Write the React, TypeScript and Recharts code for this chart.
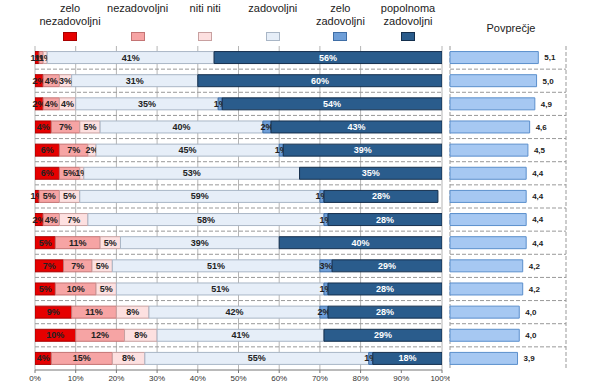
import { BarChart, Bar, XAxis, YAxis, CartesianGrid, LabelList } from 'recharts'

const rows = ['1', '2', '3', '4', '5', '6', '7', '8', '9', '10', '11', '12', '13', '14']

// percentages per answer, top row first
const zeloNezadovoljni = [1, 2, 2, 4, 6, 6, 1, 2, 5, 7, 5, 9, 10, 4]
const nezadovoljni = [1, 4, 4, 7, 7, 5, 5, 4, 11, 7, 10, 11, 12, 15]
const nitiNiti = [1, 3, 4, 5, 2, 1, 5, 7, 5, 5, 5, 8, 8, 8]
const zadovoljni = [41, 31, 35, 40, 45, 53, 59, 58, 39, 51, 51, 42, 41, 55]
const zeloZadovoljni = [0, 0, 1, 2, 1, 0, 1, 1, 0, 3, 1, 2, 0, 1]
const popolnomaZadovoljni = [56, 60, 54, 43, 39, 35, 28, 28, 40, 29, 28, 28, 29, 18]

const povprecje = [5.1, 5.0, 4.9, 4.6, 4.5, 4.4, 4.4, 4.4, 4.4, 4.2, 4.2, 4.0, 4.0, 3.9]

const pctTicks = [0, 10, 20, 30, 40, 50, 60, 70, 80, 90, 100]
const avgTicks = [1, 2, 3, 4, 5, 6]

const series = [
  { key: 'zn', label: ['zelo', 'nezadovoljni'], values: zeloNezadovoljni, fill: '#e60000', stroke: '#a80000', text: '#222' },
  { key: 'n', label: ['nezadovoljni'], values: nezadovoljni, fill: '#f6a4a4', stroke: '#c47474', text: '#222' },
  { key: 'nn', label: ['niti niti'], values: nitiNiti, fill: '#fde0e0', stroke: '#c8a0a0', text: '#222' },
  { key: 'z', label: ['zadovoljni'], values: zadovoljni, fill: '#e6eef8', stroke: '#a9b6c6', text: '#222' },
  { key: 'zz', label: ['zelo', 'zadovoljni'], values: zeloZadovoljni, fill: '#6f9fd8', stroke: '#3f6ea6', text: '#222' },
  { key: 'pz', label: ['popolnoma', 'zadovoljni'], values: popolnomaZadovoljni, fill: '#2a5c8c', stroke: '#142f4d', text: '#fff' },
]

const pctData = rows.map((name, i) => {
  const row: Record<string, any> = { name }
  series.forEach(s => (row[s.key] = s.values[i]))
  return row
})

const avgData = rows.map((name, i) => ({ name, avg: povprecje[i] }))

const font = '"Liberation Sans", Arial, sans-serif'

// dashed lines between the rows instead of through them
const betweenRows = ({ offset }: any) =>
  rows.slice(1).map((_, i) => offset.top + ((i + 1) * offset.height) / rows.length)

// label cut off at the right end of its own segment, like the next segment covering it
const segmentLabel = (key: string, color: string) => (props: any) => {
  const vb = props.viewBox || props
  const x = Number(props.x ?? vb.x)
  const y = Number(props.y ?? vb.y)
  const width = Number(props.width ?? vb.width)
  const height = Number(props.height ?? vb.height)
  const value = props.value
  if (!value) return null
  const id = `clip-${key}-${props.index}`
  return (
    <g>
      <defs>
        <clipPath id={id}>
          <rect x={0} y={y} width={x + width} height={height} />
        </clipPath>
      </defs>
      <text
        x={x + width / 2}
        y={y + height / 2}
        textAnchor="middle"
        dominantBaseline="central"
        clipPath={`url(#${id})`}
        fill={color}
        fontSize={9}
        fontWeight="bold"
        fontFamily={font}
      >
        {`${value}%`}
      </text>
    </g>
  )
}

export default function App() {
  return (
    <div style={{ position: 'absolute', left: 0, top: 0, width: 600, height: 390, background: '#fff', fontFamily: font }}>
      {series.map((s, i) => (
        <div
          key={s.key}
          style={{ position: 'absolute', left: 70 + i * 67.6 - 40, top: 2, width: 80, textAlign: 'center', fontSize: 11, lineHeight: '13px', color: '#222' }}
        >
          <div style={{ height: 27 }}>
            {s.label.map(l => (
              <div key={l}>{l}</div>
            ))}
          </div>
          <div style={{ width: 12, height: 7, margin: '3px auto 0', background: s.fill, border: `1px solid ${s.stroke}` }} />
        </div>
      ))}
      <div style={{ position: 'absolute', left: 471, top: 22, width: 80, textAlign: 'center', fontSize: 11, color: '#222' }}>Povprečje</div>

      <div style={{ position: 'absolute', left: 0, top: 0 }}>
        <BarChart width={450} height={390} data={pctData} layout="vertical" margin={{ top: 46, right: 8, left: 35, bottom: 0 }} barCategoryGap="24%">
          <CartesianGrid vertical horizontal={false} stroke="#b5b5b5" />
          <CartesianGrid vertical={false} stroke="#999" strokeDasharray="4 2" horizontalCoordinatesGenerator={betweenRows} />
          <XAxis
            type="number"
            domain={[0, 100]}
            ticks={pctTicks}
            allowDataOverflow
            tickFormatter={(v: number) => `${v}%`}
            height={20}
            tickSize={3}
            stroke="#777"
            tick={{ fontSize: 8, fill: '#333', fontFamily: font }}
          />
          <XAxis xAxisId="top" orientation="top" type="number" domain={[0, 100]} ticks={pctTicks} height={0} tick={false} stroke="#999" />
          <YAxis type="category" dataKey="name" width={0} tick={false} tickLine={false} stroke="#999" />
          <YAxis yAxisId="r" orientation="right" type="category" dataKey="name" width={0} tick={false} tickLine={false} stroke="#777" strokeWidth={2} />
          {series.map(s => (
            <Bar key={s.key} dataKey={s.key} stackId="a" fill={s.fill} stroke={s.stroke} strokeWidth={1} isAnimationActive={false}>
              <LabelList dataKey={s.key} content={segmentLabel(s.key, s.text)} />
            </Bar>
          ))}
        </BarChart>
      </div>

      <div style={{ position: 'absolute', left: 441, top: 0 }}>
        <BarChart width={159} height={390} data={avgData} layout="vertical" margin={{ top: 46, right: 34, left: 9, bottom: 0 }} barCategoryGap="24%">
          <CartesianGrid xAxisId="v" stroke="#999" strokeDasharray="4 2" horizontalCoordinatesGenerator={betweenRows} />
          <XAxis
            xAxisId="v"
            type="number"
            domain={[1, 6]}
            ticks={avgTicks}
            height={20}
            tickSize={3}
            stroke="#777"
            tick={{ fontSize: 8, fill: '#333', fontFamily: font }}
          />
          <XAxis xAxisId="b" type="number" domain={[0, 6.7]} hide />
          <XAxis xAxisId="top" orientation="top" type="number" domain={[1, 6]} height={0} tick={false} tickLine={false} stroke="#888" />
          <YAxis type="category" dataKey="name" width={0} tick={false} tickLine={false} stroke="#888" />
          <YAxis yAxisId="r" orientation="right" type="category" dataKey="name" width={0} tick={false} tickLine={false} stroke="#888" />
          <Bar dataKey="avg" xAxisId="b" fill="#a6c8f2" stroke="#5b8fcc" strokeWidth={1} isAnimationActive={false}>
            <LabelList
              dataKey="avg"
              position="right"
              offset={6}
              formatter={(v: any) => Number(v).toFixed(1).replace('.', ',')}
              fill="#222"
              fontSize={8}
              fontWeight="bold"
              fontFamily={font}
            />
          </Bar>
        </BarChart>
      </div>
    </div>
  )
}
